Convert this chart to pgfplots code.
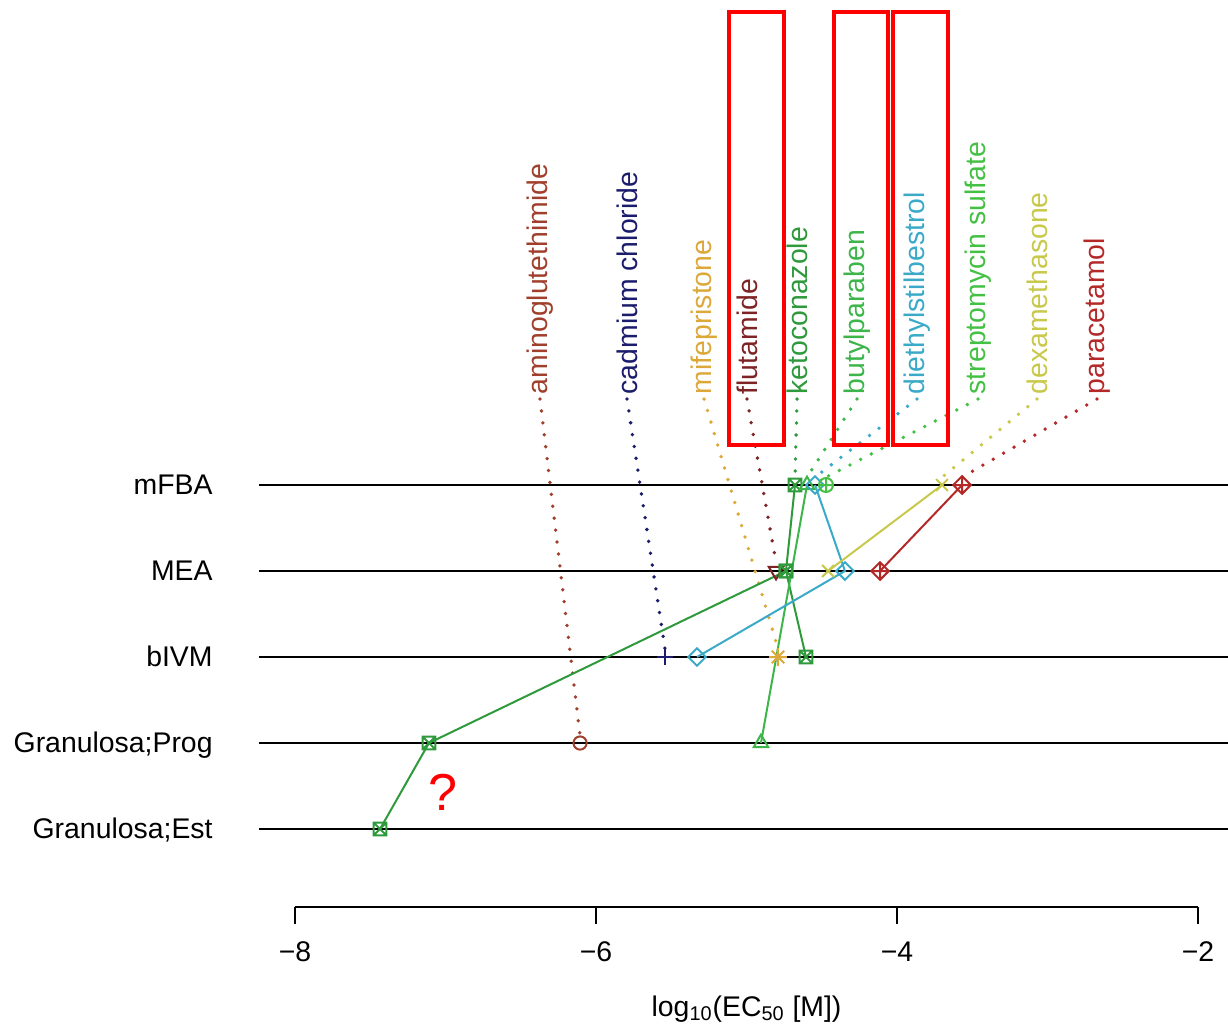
\documentclass[border=0pt]{standalone}
\usepackage{fontspec}
\setmainfont{Liberation Sans}
\usepackage{pgfplots}
\pgfplotsset{compat=1.18}

\definecolor{cAmi}{HTML}{A0402C}
\definecolor{cCad}{HTML}{1C1C6C}
\definecolor{cMif}{HTML}{DCA83A}
\definecolor{cFlu}{HTML}{7E2424}
\definecolor{cKet}{HTML}{2E9A3C}
\definecolor{cBut}{HTML}{3DB54A}
\definecolor{cDes}{HTML}{3AAAC8}
\definecolor{cStr}{HTML}{44C044}
\definecolor{cDex}{HTML}{C8C84A}
\definecolor{cPar}{HTML}{B42828}

\newcommand{\lbl}{\fontsize{14.2}{17}\selectfont}

\pgfdeclareplotmark{sqx}{%
  \pgfpathrectangle{\pgfpoint{-\pgfplotmarksize}{-\pgfplotmarksize}}{\pgfpoint{2\pgfplotmarksize}{2\pgfplotmarksize}}%
  \pgfpathmoveto{\pgfpoint{-\pgfplotmarksize}{-\pgfplotmarksize}}\pgfpathlineto{\pgfpoint{\pgfplotmarksize}{\pgfplotmarksize}}%
  \pgfpathmoveto{\pgfpoint{-\pgfplotmarksize}{\pgfplotmarksize}}\pgfpathlineto{\pgfpoint{\pgfplotmarksize}{-\pgfplotmarksize}}%
  \pgfusepathqstroke}
\pgfdeclareplotmark{rdiamond}{%
  \pgfpathmoveto{\pgfpoint{0pt}{\pgfplotmarksize}}%
  \pgfpathlineto{\pgfpoint{\pgfplotmarksize}{0pt}}%
  \pgfpathlineto{\pgfpoint{0pt}{-\pgfplotmarksize}}%
  \pgfpathlineto{\pgfpoint{-\pgfplotmarksize}{0pt}}%
  \pgfpathclose\pgfusepathqstroke}
\pgfdeclareplotmark{dplus}{%
  \pgfpathmoveto{\pgfpoint{0pt}{\pgfplotmarksize}}%
  \pgfpathlineto{\pgfpoint{\pgfplotmarksize}{0pt}}%
  \pgfpathlineto{\pgfpoint{0pt}{-\pgfplotmarksize}}%
  \pgfpathlineto{\pgfpoint{-\pgfplotmarksize}{0pt}}%
  \pgfpathclose
  \pgfpathmoveto{\pgfpoint{0pt}{\pgfplotmarksize}}\pgfpathlineto{\pgfpoint{0pt}{-\pgfplotmarksize}}%
  \pgfpathmoveto{\pgfpoint{-\pgfplotmarksize}{0pt}}\pgfpathlineto{\pgfpoint{\pgfplotmarksize}{0pt}}%
  \pgfusepathqstroke}
\pgfdeclareplotmark{trdown}{%
  \pgfpathmoveto{\pgfpoint{0pt}{-\pgfplotmarksize}}%
  \pgfpathlineto{\pgfpoint{0.866\pgfplotmarksize}{0.5\pgfplotmarksize}}%
  \pgfpathlineto{\pgfpoint{-0.866\pgfplotmarksize}{0.5\pgfplotmarksize}}%
  \pgfpathclose\pgfusepathqstroke}
\pgfdeclareplotmark{star8}{%
  \pgfpathmoveto{\pgfpoint{0pt}{\pgfplotmarksize}}\pgfpathlineto{\pgfpoint{0pt}{-\pgfplotmarksize}}%
  \pgfpathmoveto{\pgfpoint{-\pgfplotmarksize}{0pt}}\pgfpathlineto{\pgfpoint{\pgfplotmarksize}{0pt}}%
  \pgfpathmoveto{\pgfpoint{-0.707\pgfplotmarksize}{-0.707\pgfplotmarksize}}\pgfpathlineto{\pgfpoint{0.707\pgfplotmarksize}{0.707\pgfplotmarksize}}%
  \pgfpathmoveto{\pgfpoint{-0.707\pgfplotmarksize}{0.707\pgfplotmarksize}}\pgfpathlineto{\pgfpoint{0.707\pgfplotmarksize}{-0.707\pgfplotmarksize}}%
  \pgfusepathqstroke}

\tikzset{
  dots/.style={line width=1.9pt, line cap=round, dash pattern=on 0pt off 6pt},
  ser/.style={line width=1pt, mark options={solid, line width=1pt}},
  clab/.style={rotate=90, anchor=west, inner sep=0pt, font=\lbl},
}

\begin{document}
\begin{tikzpicture}
\begin{axis}[at={(0pt,0pt)}, anchor=south west, scale only axis,
  width=614pt, height=513.5pt,
  xmin=-9.960, xmax=-1.801, ymin=-1.302, ymax=10.640,
  hide axis, clip=false]

% assay rows
\addplot[black, line width=1pt] coordinates {(-8.24,5) (-1.801,5)};
\addplot[black, line width=1pt] coordinates {(-8.24,4) (-1.801,4)};
\addplot[black, line width=1pt] coordinates {(-8.24,3) (-1.801,3)};
\addplot[black, line width=1pt] coordinates {(-8.24,2) (-1.801,2)};
\addplot[black, line width=1pt] coordinates {(-8.24,1) (-1.801,1)};

\node[anchor=base east, inner sep=0pt, font=\lbl] at (axis cs:-8.545,4.884) {mFBA};
\node[anchor=base east, inner sep=0pt, font=\lbl] at (axis cs:-8.545,3.884) {MEA};
\node[anchor=base east, inner sep=0pt, font=\lbl] at (axis cs:-8.545,2.884) {bIVM};
\node[anchor=base east, inner sep=0pt, font=\lbl] at (axis cs:-8.545,1.884) {Granulosa;Prog};
\node[anchor=base east, inner sep=0pt, font=\lbl] at (axis cs:-8.545,0.884) {Granulosa;Est};

% dotted connectors from compound labels
\addplot[cAmi, dots] coordinates {(-6.372,6.0) (-6.106,2.09)};
\addplot[cCad, dots] coordinates {(-5.794,6.0) (-5.542,3.1)};
\addplot[cMif, dots] coordinates {(-5.282,6.0) (-4.791,3.1)};
\addplot[cFlu, dots] coordinates {(-4.997,6.0) (-4.804,4.1)};
\addplot[cKet, dots] coordinates {(-4.664,6.0) (-4.678,5.09)};
\addplot[cBut, dots] coordinates {(-4.266,6.0) (-4.598,5.09)};
\addplot[cDes, dots] coordinates {(-3.867,6.0) (-4.545,5.09)};
\addplot[cStr, dots] coordinates {(-3.462,6.0) (-4.472,5.09)};
\addplot[cDex, dots] coordinates {(-3.070,6.0) (-3.701,5.09)};
\addplot[cPar, dots] coordinates {(-2.671,6.0) (-3.568,5.09)};

% compound labels
\node[clab, text=cAmi] at (axis cs:-6.372,6.05) {aminoglutethimide};
\node[clab, text=cCad] at (axis cs:-5.794,6.05) {cadmium chloride};
\node[clab, text=cMif] at (axis cs:-5.282,6.05) {mifepristone};
\node[clab, text=cFlu] at (axis cs:-4.997,6.05) {flutamide};
\node[clab, text=cKet] at (axis cs:-4.664,6.05) {ketoconazole};
\node[clab, text=cBut] at (axis cs:-4.266,6.05) {butylparaben};
\node[clab, text=cDes] at (axis cs:-3.867,6.05) {diethylstilbestrol};
\node[clab, text=cStr] at (axis cs:-3.462,6.05) {streptomycin sulfate};
\node[clab, text=cDex] at (axis cs:-3.070,6.05) {dexamethasone};
\node[clab, text=cPar] at (axis cs:-2.671,6.05) {paracetamol};

% series
\addplot[cAmi, ser, mark=o, mark size=3.3pt] coordinates {(-6.106,2)};
\addplot[cCad, ser, mark=+, mark size=4.2pt] coordinates {(-5.542,3)};
\addplot[cMif, ser, mark=star8, mark size=4.4pt] coordinates {(-4.791,3)};
\addplot[cFlu, ser, mark=trdown, mark size=4.2pt] coordinates {(-4.804,4)};
\addplot[cKet, ser, mark=sqx, mark size=3.2pt] coordinates {(-4.678,5) (-4.738,4) (-4.605,3)};
\addplot[cKet, ser, mark=sqx, mark size=3.2pt] coordinates {(-4.738,4) (-7.110,2) (-7.435,1)};
\addplot[cBut, ser, mark=triangle, mark size=4.2pt] coordinates {(-4.598,5) (-4.904,2)};
\addplot[cDes, ser, mark=rdiamond, mark size=4.4pt] coordinates {(-4.545,5) (-4.346,4) (-5.329,3)};
\addplot[cStr, ser, mark=oplus, mark size=3.5pt] coordinates {(-4.472,5)};
\addplot[cDex, ser, mark=x, mark size=4.2pt] coordinates {(-3.701,5) (-4.458,4)};
\addplot[cPar, ser, mark=dplus, mark size=4.4pt] coordinates {(-3.568,5) (-4.113,4)};

% annotations
\draw[red, line width=2pt] (axis cs:-5.116,5.465) rectangle (axis cs:-4.751,10.50);
\draw[red, line width=2pt] (axis cs:-4.419,5.465) rectangle (axis cs:-4.060,10.50);
\draw[red, line width=2pt] (axis cs:-4.027,5.465) rectangle (axis cs:-3.661,10.50);
\node[text=red, font=\fontsize{26}{30}\selectfont, inner sep=0pt] at (axis cs:-7.017,1.43) {?};

% x label
\node[font=\lbl, inner sep=0pt] at (axis cs:-5.0,-1.09) {log\textsubscript{10}(EC\textsubscript{50} [M])};
\end{axis}

\begin{axis}[at={(147.5pt,60pt)}, anchor=south west, scale only axis,
  width=451.5pt, height=10pt, xmin=-8, xmax=-2, ymin=0, ymax=1,
  axis x line*=bottom, axis y line=none, axis line style={-, line width=1pt},
  xtick={-8,-6,-4,-2}, xticklabels={−8,−6,−4,−2},
  tick align=outside, major tick length=8.5pt,
  xtick style={line width=1pt, black},
  xticklabel style={font=\lbl, anchor=center, yshift=-14pt}]
\end{axis}
\pgfresetboundingbox
\path[use as bounding box] (0pt,0pt) rectangle (614pt,513.5pt);
\end{tikzpicture}
\end{document}
